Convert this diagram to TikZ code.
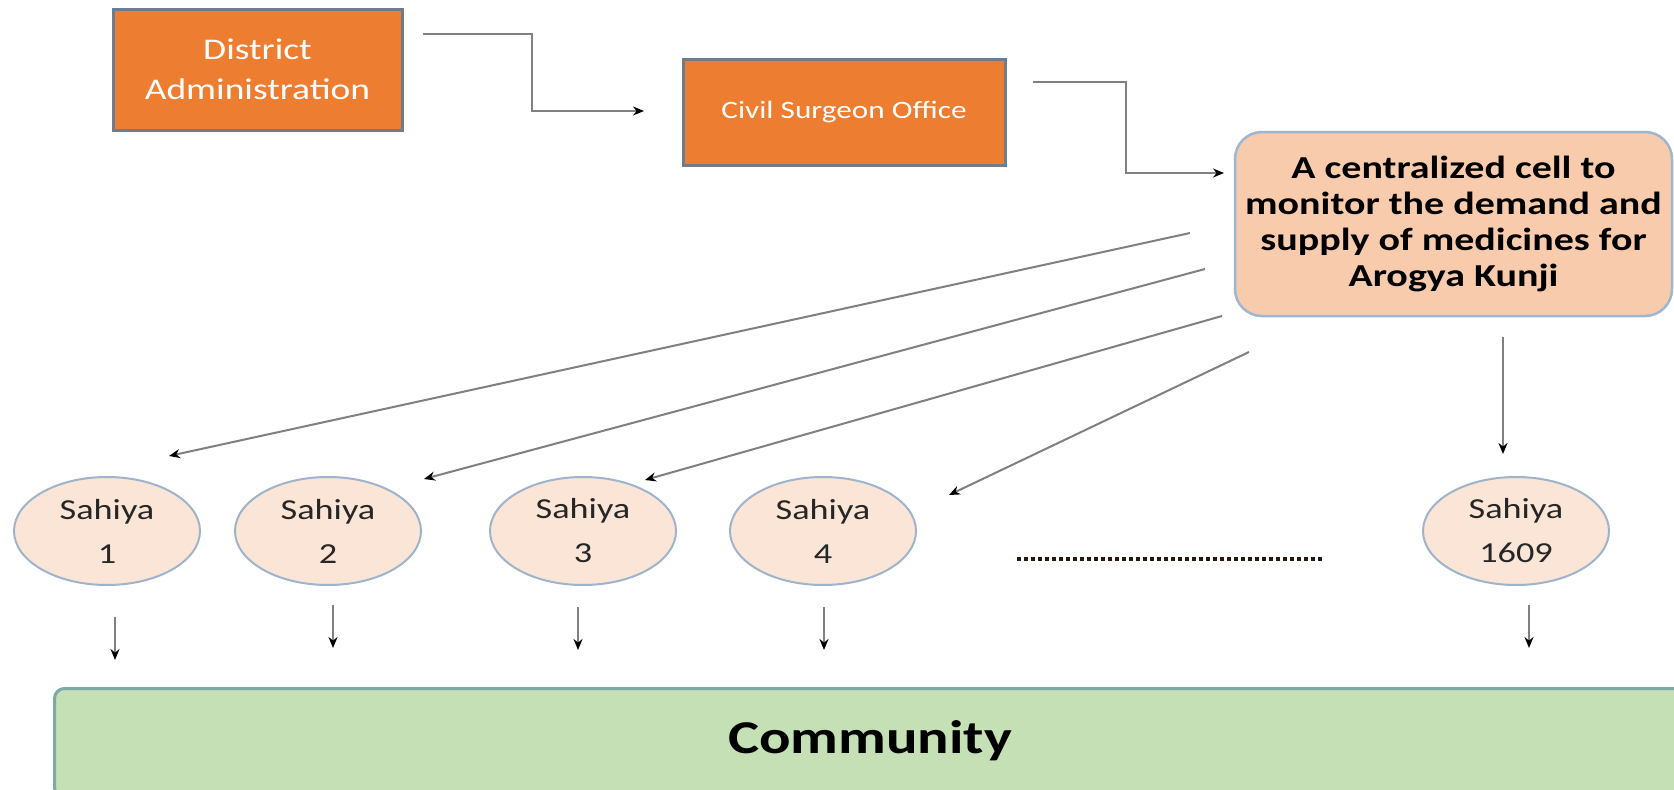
\documentclass[tikz,border=0pt]{standalone}
\usepackage{fontspec}
\setmainfont[FakeStretch=1.25]{Carlito}
\usetikzlibrary{arrows.meta,shapes.geometric}
\definecolor{orangeF}{HTML}{ED7D31}
\definecolor{orangeB}{HTML}{6E7C8C}
\definecolor{cellF}{HTML}{F8CBAD}
\definecolor{cellB}{HTML}{9FB6CF}
\definecolor{ellF}{HTML}{FBE5D6}
\definecolor{ellB}{HTML}{9DB4CC}
\definecolor{comF}{HTML}{C5E0B4}
\definecolor{comB}{HTML}{7FA8A8}
\definecolor{lineG}{HTML}{808080}
\tikzset{
  orbox/.style={draw=orangeB, line width=3pt, fill=orangeF, text=white, align=center, inner sep=0pt},
  cellbox/.style={draw=cellB, line width=2.5pt, fill=cellF, rounded corners=27pt, align=center, inner sep=0pt, text=black},
  sahiya/.style={ellipse, draw=ellB, line width=2pt, fill=ellF, minimum width=186pt, minimum height=108pt, inner sep=0pt, align=center, text=black!85, font=\fontsize{29}{44}\selectfont},
  conn/.style={draw=lineG, line width=2pt, -{Stealth[length=11pt,width=9pt,black]}},
}
\begin{document}
\begin{tikzpicture}[x=1pt,y=-1pt]
\clip (0,0) rectangle (1674,790);
\fill[white] (0,0) rectangle (1674,790);

% top boxes
\node[orbox, minimum width=289pt, minimum height=121pt, font=\fontsize{30}{40}\selectfont] (da) at (257.5,69.5) {District\\Administration};
\node[orbox, minimum width=322pt, minimum height=106pt, font=\fontsize{25}{30}\selectfont] (cs) at (844,112) {Civil Surgeon Office};
\node[cellbox, minimum width=437pt, minimum height=184pt, font=\bfseries\fontsize{32}{36}\selectfont] (cell) at (1453.5,224) {A centralized cell to\\monitor the demand and\\supply of medicines for\\Arogya Kunji};

% elbow connectors
\coordinate (a1s) at (423,34);
\coordinate (a1e) at (644,111);
\draw[conn] (a1s) -- (532,34) |- (a1e);
\coordinate (a2s) at (1033,82);
\coordinate (a2e) at (1224,173);
\draw[conn] (a2s) -- (1126,82) |- (a2e);

% Sahiya ellipses
\node[sahiya] (s1) at (107,531) {Sahiya\\1};
\node[sahiya] (s2) at (328,531) {Sahiya\\2};
\node[sahiya] (s3) at (583,531) {Sahiya\\3};
\node[sahiya] (s4) at (823,531) {Sahiya\\4};
\node[sahiya] (s5) at (1516,531) {Sahiya\\1609};

% dotted line
\coordinate (dl1) at (1017,559);
\coordinate (dl2) at (1322,559);
\draw[draw=black!80!brown, line width=4pt, dash pattern=on 4pt off 3pt] (dl1) -- (dl2);

% diagonal arrows from cell
\coordinate (d1s) at (1190,233); \coordinate (d1e) at (169,456);
\coordinate (d2s) at (1205,269); \coordinate (d2e) at (424,479);
\coordinate (d3s) at (1222,316); \coordinate (d3e) at (645,480);
\coordinate (d4s) at (1249,352); \coordinate (d4e) at (949,495);
\coordinate (d5s) at (1503,337); \coordinate (d5e) at (1503,454);
\draw[conn] (d1s) -- (d1e);
\draw[conn] (d2s) -- (d2e);
\draw[conn] (d3s) -- (d3e);
\draw[conn] (d4s) -- (d4e);
\draw[conn] (d5s) -- (d5e);

% community
\node[draw=comB, line width=3pt, fill=comF, rounded corners=10pt, minimum width=1660pt, minimum height=109pt, anchor=north west, inner sep=0pt] (com) at (53,687) {};
\node[font=\bfseries\fontsize{47}{50}\selectfont, text=black] (comt) at (870,741) {Community};

% down arrows
\coordinate (u1s) at (115,617); \coordinate (u1e) at (115,660);
\coordinate (u2s) at (333,605); \coordinate (u2e) at (333,648);
\coordinate (u3s) at (578,607); \coordinate (u3e) at (578,650);
\coordinate (u4s) at (824,607); \coordinate (u4e) at (824,650);
\coordinate (u5s) at (1529,605); \coordinate (u5e) at (1529,648);
\draw[conn] (u1s) -- (u1e);
\draw[conn] (u2s) -- (u2e);
\draw[conn] (u3s) -- (u3e);
\draw[conn] (u4s) -- (u4e);
\draw[conn] (u5s) -- (u5e);
\end{tikzpicture}
\end{document}
